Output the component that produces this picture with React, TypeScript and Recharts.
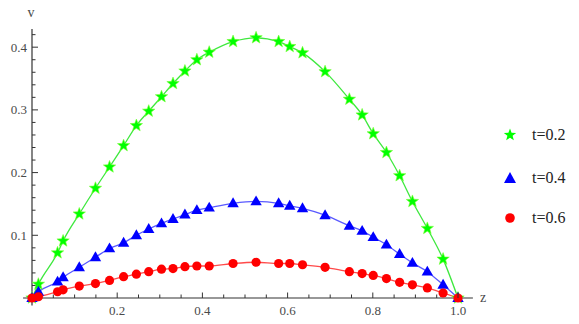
import { ComposedChart, Line, XAxis, YAxis, ReferenceLine, Label } from "recharts";

// sample points along z (shared by all three curves)
const zValues = [
  0, 0.015, 0.06, 0.073, 0.111, 0.149, 0.182, 0.215, 0.245, 0.274, 0.304, 0.331, 0.359, 0.387,
  0.416, 0.472, 0.526, 0.579, 0.605, 0.635, 0.688, 0.745, 0.775, 0.801, 0.832, 0.863, 0.893,
  0.928, 0.965, 1.0,
];

const vT02 = [
  0, 0.022, 0.072, 0.091, 0.134, 0.175, 0.209, 0.243, 0.275, 0.298, 0.321, 0.342, 0.362, 0.38,
  0.392, 0.409, 0.415, 0.409, 0.401, 0.391, 0.361, 0.317, 0.292, 0.262, 0.232, 0.195, 0.154,
  0.111, 0.062, 0,
];

const vT04 = [
  0, 0.01, 0.026, 0.033, 0.049, 0.065, 0.079, 0.088, 0.1, 0.11, 0.119, 0.126, 0.133, 0.14,
  0.144, 0.151, 0.154, 0.151, 0.147, 0.143, 0.132, 0.115, 0.107, 0.097, 0.085, 0.07, 0.056,
  0.042, 0.021, 0,
];

const vT06 = [
  0, 0.002, 0.01, 0.013, 0.019, 0.023, 0.028, 0.034, 0.038, 0.042, 0.046, 0.047, 0.05, 0.051,
  0.051, 0.055, 0.057, 0.055, 0.055, 0.053, 0.049, 0.042, 0.039, 0.036, 0.031, 0.025, 0.021,
  0.016, 0.008, 0,
];

const xTicks = [
  0.05, 0.1, 0.15, 0.2, 0.25, 0.3, 0.35, 0.4, 0.45, 0.5, 0.55, 0.6, 0.65, 0.7, 0.75, 0.8, 0.85,
  0.9, 0.95, 1.0,
];
const yTicks = [
  0.02, 0.04, 0.06, 0.08, 0.1, 0.12, 0.14, 0.16, 0.18, 0.2, 0.22, 0.24, 0.26, 0.28, 0.3, 0.32,
  0.34, 0.36, 0.38, 0.4, 0.42,
];

const seriesNames = ["t=0.2", "t=0.4", "t=0.6"];

const data = zValues.map((z, i) => ({ z, a: vT02[i], b: vT04[i], c: vT06[i] }));

const AXIS = "#333";
const LABEL = "#4a4a4a";
const FONT = "'Liberation Serif', 'DejaVu Serif', serif";

const isMajor = (v: number) => Math.abs(v * 10 - Math.round(v * 10)) < 1e-6 && Math.round(v * 10) % 2 === 0;
const isMajorY = (v: number) => Math.abs(v * 10 - Math.round(v * 10)) < 1e-6;

function starPath(cx: number, cy: number, r: number) {
  const pts: string[] = [];
  for (let k = 0; k < 10; k++) {
    const rad = k % 2 === 0 ? r : r * 0.42;
    const ang = -Math.PI / 2 + (k * Math.PI) / 5;
    pts.push(`${cx + rad * Math.cos(ang)},${cy + rad * Math.sin(ang)}`);
  }
  return "M" + pts.join("L") + "Z";
}

const Star = ({ cx, cy, r = 6.5 }: any) => (
  <path d={starPath(cx, cy, r)} fill="#00ff00" stroke="#7cff3a" strokeWidth={0.6} />
);
const Tri = ({ cx, cy, s = 6 }: any) => (
  <path d={`M${cx},${cy - s}L${cx + s * 0.95},${cy + s * 0.65}L${cx - s * 0.95},${cy + s * 0.65}Z`} fill="#0000ff" />
);
const Dot = ({ cx, cy, r = 4.6 }: any) => <circle cx={cx} cy={cy} r={r} fill="#ff0000" />;

const YTick = ({ x, y, payload }: any) => {
  const v = payload.value;
  const major = isMajorY(v);
  const ax = x + 4;
  return (
    <g>
      <line x1={ax} x2={ax + (major ? 6 : 3.5)} y1={y} y2={y} stroke={AXIS} />
      {major && (
        <text x={x - 1} y={y} dy={4.5} textAnchor="end" fill={LABEL} fontSize={13} fontFamily={FONT}>
          {v.toFixed(1)}
        </text>
      )}
    </g>
  );
};

const XTick = ({ x, y, payload }: any) => {
  const v = payload.value;
  const major = isMajor(v);
  const ay = y - 4;
  return (
    <g>
      <line x1={x} x2={x} y1={ay} y2={ay - (major ? 5.5 : 3.5)} stroke={AXIS} />
      {major && (
        <text x={x} y={y} dy={13} textAnchor="middle" fill={LABEL} fontSize={13} fontFamily={FONT}>
          {v.toFixed(1)}
        </text>
      )}
    </g>
  );
};

const legendIcons = [
  <svg width={16} height={16}><path d={starPath(8, 8, 6.5)} fill="#00ff00" /></svg>,
  <svg width={16} height={16}><path d="M8,2L14,13L2,13Z" fill="#0000ff" /></svg>,
  <svg width={16} height={16}><circle cx={8} cy={8} r={4.8} fill="#ff0000" /></svg>,
];
const legendTops = [126, 169, 209];

export default function App() {
  return (
    <div style={{ position: "absolute", left: 0, top: 0, width: 579, height: 324, background: "#fff" }}>
      <ComposedChart width={579} height={324} data={data} margin={{ top: 29, right: 121, bottom: 6, left: 0 }}>
        <XAxis
          dataKey="z"
          type="number"
          domain={[0, 1]}
          ticks={xTicks}
          axisLine={false}
          tickLine={false}
          tickSize={0}
          tickMargin={4}
          height={20}
          interval={0}
          tick={<XTick />}
        >
          <Label
            content={({ viewBox }: any) => (
              <text x={viewBox.x + viewBox.width + 25} y={viewBox.y + 4} textAnchor="middle" fill={LABEL} fontSize={14} fontFamily={FONT}>
                z
              </text>
            )}
          />
        </XAxis>
        <YAxis
          type="number"
          domain={[0, 0.429]}
          ticks={yTicks}
          axisLine={false}
          tickLine={false}
          tickSize={0}
          tickMargin={4}
          width={32}
          interval={0}
          tick={<YTick />}
        >
          <Label
            content={({ viewBox }: any) => (
              <text x={viewBox.x + viewBox.width - 1} y={viewBox.y - 12} textAnchor="middle" fill={LABEL} fontSize={14} fontFamily={FONT}>
                v
              </text>
            )}
          />
        </YAxis>
        <ReferenceLine segment={[{ x: -0.021, y: 0 }, { x: 1.035, y: 0 }]} stroke={AXIS} strokeWidth={1.2} ifOverflow="visible" />
        <ReferenceLine segment={[{ x: 0, y: -0.012 }, { x: 0, y: 0.429 }]} stroke={AXIS} strokeWidth={1.2} ifOverflow="visible" />
        <Line
          dataKey="a"
          name={seriesNames[0]}
          type="monotone"
          stroke="#3ee83e"
          strokeWidth={1.3}
          isAnimationActive={false}
          dot={(p: any) => <Star key={p.index} cx={p.cx} cy={p.cy} />}
          activeDot={false}
        />
        <Line
          dataKey="b"
          name={seriesNames[1]}
          type="monotone"
          stroke="#5a5aff"
          strokeWidth={1.3}
          isAnimationActive={false}
          dot={(p: any) => <Tri key={p.index} cx={p.cx} cy={p.cy} />}
          activeDot={false}
        />
        <Line
          dataKey="c"
          name={seriesNames[2]}
          type="monotone"
          stroke="#ff4a4a"
          strokeWidth={1.3}
          isAnimationActive={false}
          dot={(p: any) => <Dot key={p.index} cx={p.cx} cy={p.cy} />}
          activeDot={false}
        />
      </ComposedChart>
      {seriesNames.map((name, i) => (
        <div
          key={name}
          style={{
            position: "absolute",
            left: 502,
            top: legendTops[i],
            display: "flex",
            alignItems: "center",
            fontFamily: FONT,
            fontSize: 16,
            color: "#222",
          }}
        >
          {legendIcons[i]}
          <span style={{ marginLeft: 14 }}>{name}</span>
        </div>
      ))}
    </div>
  );
}
